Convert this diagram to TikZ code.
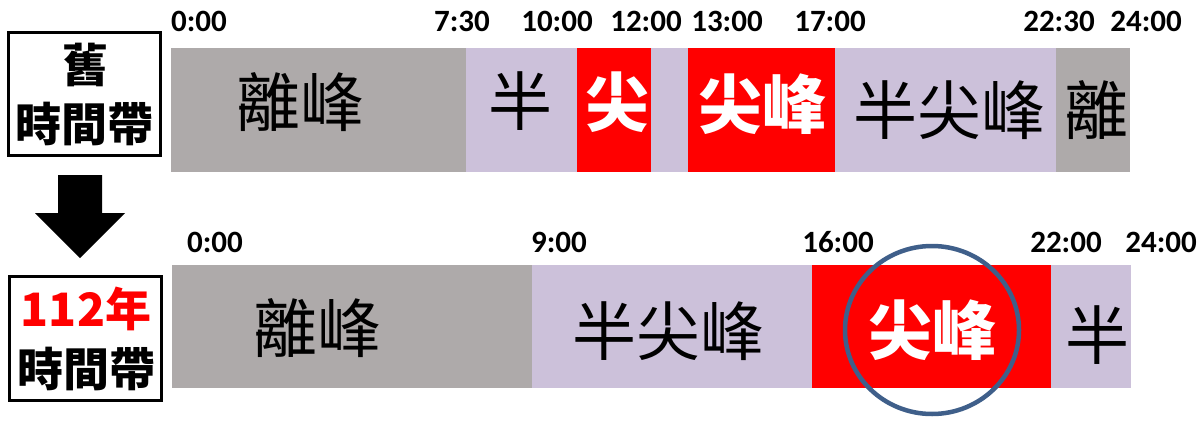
\documentclass[tikz,border=0pt]{standalone}
\usepackage{fontspec}
\setmainfont{Carlito}
\newfontfamily\cjk{Noto Sans CJK TC}
\usetikzlibrary{positioning}

\definecolor{offpk}{HTML}{AEAAAA}
\definecolor{midpk}{HTML}{CCC1DA}
\definecolor{ringc}{HTML}{3F5F8A}

\tikzset{
  hour/.style={anchor=base, inner sep=0pt, font=\bfseries\fontsize{31}{31}\selectfont},
  seglbl/.style={inner sep=0pt, font=\cjk\fontsize{64}{64}\selectfont},
  peaklbl/.style={seglbl, text=white, font=\cjk\bfseries\fontsize{64}{64}\selectfont},
  tagbox/.style={draw, line width=3pt},
  taglbl/.style={inner sep=0pt, font=\cjk\bfseries\fontsize{46}{46}\selectfont}
}

\begin{document}
\begin{tikzpicture}[x=1pt,y=-1pt]
\useasboundingbox (0,0) rectangle (1201,420);

%%% HELP LINES - uncomment to design/extend
% \draw[step=50,gray,very thin] (0,0) grid (1201,420);

%% Left tags
\draw[tagbox] (8.5,32.5) rectangle (160.5,155.5);
\node[taglbl] (oldA) at (85,65) {舊};
\node[taglbl] (oldB) at (85,124) {時間帶};

\draw[tagbox] (9.5,276.5) rectangle (161.5,400.5);
\node[taglbl, text=red] (newA) at (86,309) {112年};
\node[taglbl] (newB) at (86,369) {時間帶};

% down arrow
\fill (58,175) -- (102,175) -- (102,213) -- (125,213) -- (80,258)
  -- (35,213) -- (58,213) -- cycle;

%% Old bar
\fill[offpk] (171,48) rectangle (466,172);
\fill[midpk] (466,48) rectangle (577,172);
\fill[red] (577,48) rectangle (651,172);
\fill[midpk] (651,48) rectangle (688,172);
\fill[red] (688,48) rectangle (835,172);
\fill[midpk] (835,48) rectangle (1056,172);
\fill[offpk] (1056,48) rectangle (1130,172);

\node[seglbl] (oOff) at (300,102) {離峰};
\node[seglbl] (oMidA) at (520,101) {半};
\node[peaklbl] (oPkA) at (617,102) {尖};
\node[peaklbl] (oPkB) at (762,104) {尖峰};
\node[seglbl] (oMidB) at (949,110) {半尖峰};
\node[seglbl] (oOffB) at (1096,110) {離};

\foreach \x/\t [count=\i] in {199/0:00, 462/7:30, 557/10:00, 646/12:00,
    727/13:00, 830/17:00, 1059/22:30, 1146/24:00}
  \node[hour] (oh\i) at (\x,32) {\t};

%% New bar
\fill[offpk] (172,265) rectangle (532,388);
\fill[midpk] (532,265) rectangle (812,388);
\fill[red] (812,265) rectangle (1051,388);
\fill[midpk] (1051,265) rectangle (1131,388);

\node[seglbl] (nOff) at (317,328) {離峰};
\node[seglbl] (nMid) at (668,331) {半尖峰};
\node[peaklbl] (nPk) at (932,330) {尖峰};
\node[seglbl] (nMidB) at (1097,335) {半};

\foreach \x/\t [count=\i] in {215/0:00, 559/9:00, 838/16:00, 1066/22:00, 1161/24:00}
  \node[hour] (nh\i) at (\x,252) {\t};

% ring round the new peak
\draw[ringc, line width=4.5pt] (nPk.center) ellipse [x radius=87, y radius=84];

\end{tikzpicture}
\end{document}
